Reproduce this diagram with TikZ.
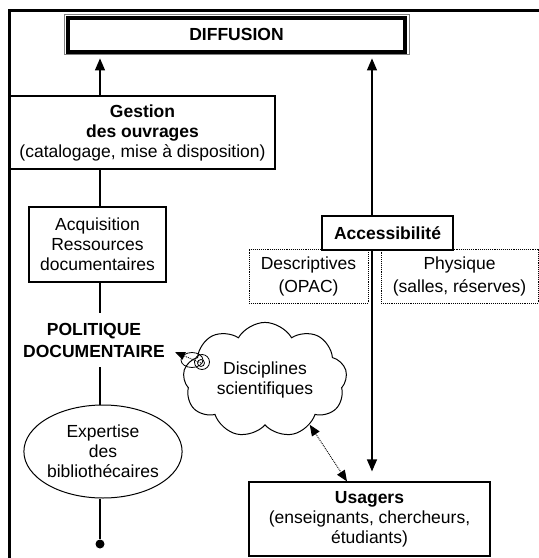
\documentclass[tikz,border=0pt]{standalone}
\usepackage{fontspec}
\setmainfont{Liberation Sans}
\usetikzlibrary{positioning, arrows.meta, shapes.geometric, shapes.symbols}

\tikzset{
  box/.style={draw, line width=1.2pt, align=center, inner sep=0pt},
  dotbox/.style={draw, densely dotted, line width=0.9pt, align=center, inner sep=0pt},
  link/.style={line width=1.2pt},
  arr/.style={-{Triangle[length=12pt,width=10pt]}},
  dotarr/.style={densely dotted, line width=0.9pt},
  smalltip/.style={-{Triangle[length=10pt,width=8pt]}},
}

\begin{document}
\begin{tikzpicture}[x=1pt, y=-1pt, font=\fontsize{17.5}{20}\selectfont]
    \useasboundingbox (0,0) rectangle (539,558);

    % Draw frame
    \draw[line width=3pt] (9,558) -- (9,10) -- (539,10);

    % Top box
    \node[draw=gray, line width=0.8pt, outer sep=0pt, minimum width=345pt, minimum height=40.4pt, font=\fontsize{17.5}{20}\selectfont\bfseries] (diff) at (236.5,34.2) {DIFFUSION};
    \draw[line width=4pt] ([shift={(4,3.5)}]diff.north west) rectangle ([shift={(-4,-2.7)}]diff.south east);

    % Left column
    \node[box, minimum width=265pt, minimum height=73pt] (gest) at (142.5,132.5) {\textbf{Gestion}\\\textbf{des ouvrages}\\(catalogage, mise à disposition)};
    \node[box, minimum width=137pt, minimum height=75pt] (acq) at (97.5,244.5) {Acquisition\\Ressources\\documentaires};
    \node[font=\fontsize{17.5}{20}\selectfont\bfseries, align=center, inner sep=0pt, minimum height=54pt] (pol) at (94,340) {POLITIQUE\\[2pt]DOCUMENTAIRE};
    \node[ellipse, draw, line width=1pt, minimum width=150pt, minimum height=93pt, align=center, inner sep=0pt] (exp) at (103,451.5) {Expertise\\des\\bibliothécaires};
    \node[circle, fill, inner sep=0pt, minimum size=9pt] (end) at (100,544) {};

    % Right column
    \node[box, font=\fontsize{17.5}{20}\selectfont\bfseries, minimum width=131pt, minimum height=34pt] (acc) at (387.5,233) {Accessibilité};
    \node[dotbox, minimum width=119pt, minimum height=54pt] (desc) at (308.5,276) {Descriptives\\[3pt](OPAC)};
    \node[dotbox, minimum width=157pt, minimum height=54pt] (phys) at (459.5,276) {Physique\\[3pt](salles, réserves)};
    \node[box, minimum width=241pt, minimum height=74pt] (usa) at (369.5,519) {\textbf{Usagers}\\(enseignants, chercheurs,\\étudiants)};

    % Cloud and its bubble
    \node[cloud, draw, line width=1pt, cloud puffs=9, cloud puff arc=120, aspect=1.45, minimum width=164pt, minimum height=114pt, align=center, inner sep=0pt] (dis) at (265,380) {Disciplines\\scientifiques};
    \node[ellipse, draw, line width=0.8pt, minimum width=22pt, minimum height=15pt, inner sep=0pt] (bub) at (192,360) {};
    \node[circle, draw, line width=0.8pt, minimum size=15pt, inner sep=0pt] (bubring) at (202,362) {};
    \node[circle, draw, line width=0.8pt, minimum size=7pt, inner sep=0pt] (bubcore) at (201,363) {};

    % Spines
    \coordinate (lspine) at (100,0);
    \coordinate (rspine) at (372,0);
    \coordinate (usain) at (347,0);
    \coordinate (poltip) at (175,352);

    % Draw links
    \draw[link, arr, shorten >=4pt] (gest.north -| lspine) -- (diff.south -| lspine);
    \foreach \a/\b in {gest/acq, acq/pol, pol/exp} {
      \draw[link] (\a.south -| lspine) -- (\b.north -| lspine);
    }
    \draw[link] (exp.south -| lspine) -- (end);
    \draw[link, arr, shorten >=4pt] (acc.north -| rspine) -- (diff.south -| rspine);
    \draw[link, arr, shorten >=10pt] (acc.south -| rspine) -- (usa.north -| rspine);

    % Dotted arrows
    \draw[dotarr, smalltip] (bubcore.center) -- (poltip);
    \draw[dotarr, {Triangle[length=11pt,width=9pt]}-{Triangle[length=11pt,width=9pt]}] (dis.-45) -- (usa.north -| usain);
\end{tikzpicture}
\end{document}
